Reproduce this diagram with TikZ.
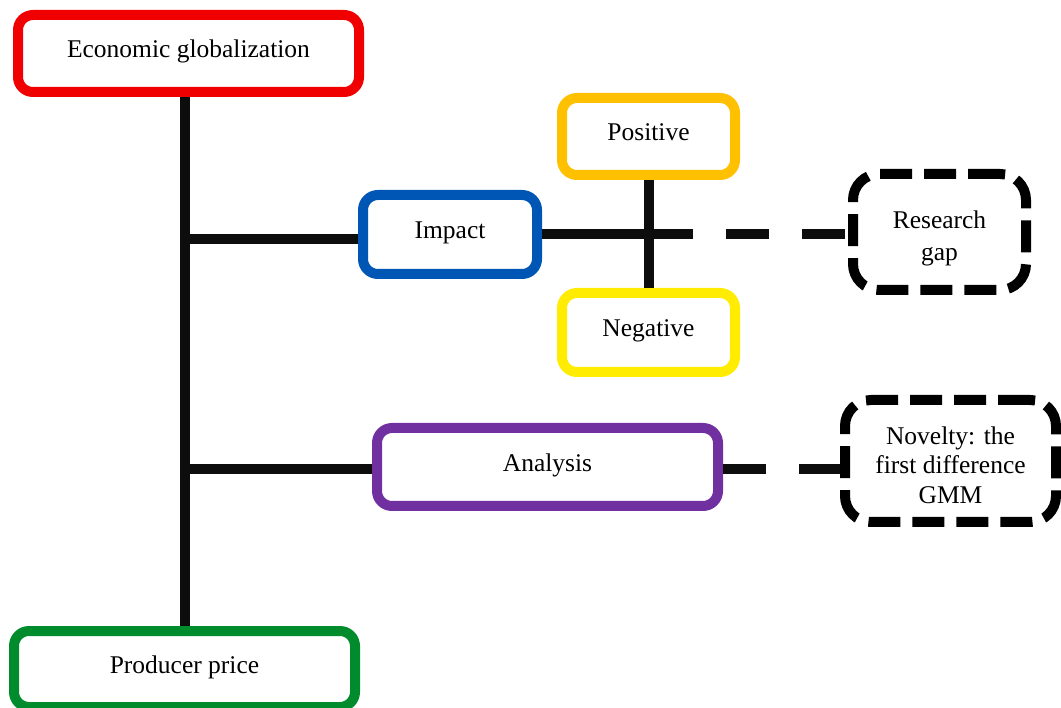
\documentclass[tikz,border=0pt]{standalone}
\usepackage{fontspec}
\setmainfont{Liberation Serif}
\definecolor{cred}{RGB}{240,0,0}
\definecolor{cgreen}{RGB}{0,140,45}
\definecolor{cblue}{RGB}{0,86,180}
\definecolor{corange}{RGB}{255,192,0}
\definecolor{cyellow}{RGB}{255,236,0}
\definecolor{cpurple}{RGB}{112,48,160}
\begin{document}
\begin{tikzpicture}[x=1pt,y=-1pt,
  txt/.style={inner sep=0pt, align=center, font=\fontsize{25.5}{31}\selectfont},
  box/.style={draw, line width=10pt, rounded corners=15pt, fill=white,
    txt, text height=18pt, text depth=9.5pt},
  dbox/.style={draw, line width=10pt, fill=white, inner sep=0pt,
    rounded corners=26pt, dash pattern=on 32pt off 12pt},
  conn/.style={line width=10pt, draw=black!95},
  dconn/.style={conn, dash pattern=on 43pt off 33pt}]
\useasboundingbox (0,0) rectangle (1061,708);
\coordinate (spine) at (185,0);
\coordinate (pn) at (650,0);

\node[box, draw=cred, minimum width=341pt, minimum height=77pt] (econ) at (188.5,53.5) {Economic globalization};
\node[box, draw=cgreen, minimum width=341pt, minimum height=76pt] (prod) at (184.5,669) {Producer price};
\node[box, draw=cblue, minimum width=174pt, minimum height=79pt] (impact) at (450,234.5) {Impact};
\node[box, draw=corange, minimum width=173pt, minimum height=77pt] (pos) at (648.5,136.5) {Positive};
\node[box, draw=cyellow, minimum width=173pt, minimum height=79pt] (neg) at (648.5,332.5) {Negative};
\node[box, draw=cpurple, minimum width=341pt, minimum height=78pt] (ana) at (547.5,467) {Analysis};
\node[dbox, minimum width=173pt, minimum height=116pt,
  label={[txt, font=\fontsize{25.5}{32}\selectfont, yshift=-6pt]center:{Research\\gap}}] (rgap) at (939.5,232) {};
\node[dbox, minimum width=211pt, minimum height=122pt,
  label={[txt, font=\fontsize{25.5}{29.5}\selectfont, yshift=-4pt]center:{Novelty: the\\first difference\\GMM}}] (nov) at (950.5,461) {};

\draw[conn] (econ.south -| spine) -- (prod.north -| spine);
\draw[conn] ([yshift=-5pt]impact.west -| spine) -- ([yshift=-5pt]impact.west);
\draw[conn] ([yshift=-2.5pt]ana.west -| spine) -- ([yshift=-2.5pt]ana.west);
\draw[conn] (pos.south) -- (neg.north);
\draw[conn] (impact.east) -- (impact.east -| pn);
\draw[dconn] (impact.east -| pn) -- (impact.east -| rgap.west);
\draw[dconn] ([yshift=-2pt]ana.east) -- ([yshift=-2pt]ana.east -| nov.west);
\end{tikzpicture}
\end{document}
